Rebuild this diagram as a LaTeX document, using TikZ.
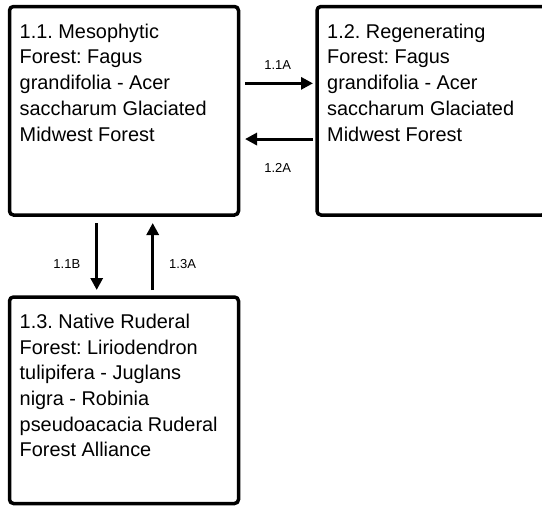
\documentclass[tikz,border=0pt]{standalone}
\usepackage{fontspec}
\setmainfont{Liberation Sans}
\usetikzlibrary{arrows.meta}
\frenchspacing
\tikzset{
  statebox/.style={draw=black, line width=3.5pt, rounded corners=4pt, inner sep=0pt, outer sep=0pt,
    minimum width=229pt, fill=white},
  boxtext/.style={anchor=base west, inner sep=0pt, align=left},
  arr/.style={line width=3pt, -{Triangle[length=12pt,width=12pt]}},
  lab/.style={inner sep=0pt, font=\fontsize{13pt}{15pt}\selectfont}
}
\newcommand{\boxtxt}[1]{\parbox[t]{225pt}{\raggedright\frenchspacing\fontsize{19.9pt}{25.7pt}\selectfont #1}}
\begin{document}
\begin{tikzpicture}[x=1pt,y=-1pt]
\useasboundingbox (0,0) rectangle (542,506);
\clip (0,0) rectangle (542,506);
\fill[white] (0,0) rectangle (542,506);
% boxes
\node[statebox, minimum height=208.5pt, anchor=north west] (b1) at (9.5,6.5) {};
\node[statebox, minimum height=208.5pt, anchor=north west] (b2) at (317,6.5) {};
\node[statebox, minimum height=206.5pt, anchor=north west] (b3) at (9.5,297) {};
% texts
\node[boxtext] (t1) at ([xshift=10pt,yshift=-31.8pt]b1.north west) {\boxtxt{1.1. Mesophytic\\Forest: Fagus\\grandifolia - Acer\\saccharum Glaciated\\Midwest Forest}};
\node[boxtext] (t2) at ([xshift=10pt,yshift=-31.8pt]b2.north west) {\boxtxt{1.2. Regenerating\\Forest: Fagus\\grandifolia - Acer\\saccharum Glaciated\\Midwest Forest}};
\node[boxtext] (t3) at ([xshift=10pt,yshift=-31.3pt]b3.north west) {\boxtxt{1.3. Native Ruderal\\Forest: Liriodendron\\tulipifera - Juglans\\nigra - Robinia\\pseudoacacia Ruderal\\Forest Alliance}};
% arrows
\draw[arr, shorten <=6.5pt, shorten >=4pt] ([yshift=27.4pt]b1.east) -- ([yshift=27.4pt]b2.west)
  node[lab, midway, above=12pt] (l1) {1.1A};
\draw[arr, shorten <=4pt, shorten >=6.5pt] ([yshift=-28.3pt]b2.west) -- ([yshift=-28.3pt]b1.east)
  node[lab, midway, below=23pt] (l2) {1.2A};
\draw[arr, shorten <=8pt, shorten >=7pt] ([xshift=-27.3pt]b1.south) -- ([xshift=-27.3pt]b3.north)
  node[lab, pos=0.6, left=15pt] (l3) {1.1B};
\draw[arr, shorten <=7pt, shorten >=8pt] ([xshift=28.7pt]b3.north) -- ([xshift=28.7pt]b1.south)
  node[lab, pos=0.4, right=15pt] (l4) {1.3A};
\end{tikzpicture}
\end{document}
